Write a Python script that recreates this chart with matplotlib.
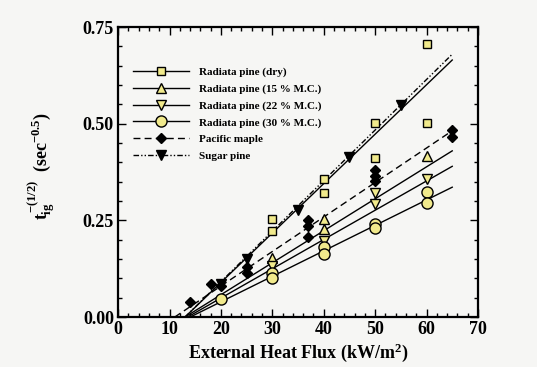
import matplotlib
matplotlib.use("Agg")
import matplotlib.pyplot as plt
from matplotlib.lines import Line2D
from matplotlib.ticker import MultipleLocator

plt.rcParams["font.family"] = "Liberation Serif"
plt.rcParams["font.weight"] = "bold"
plt.rcParams["mathtext.fontset"] = "custom"
plt.rcParams["mathtext.rm"] = "Liberation Serif:bold"
plt.rcParams["mathtext.it"] = "Liberation Serif:bold"
plt.rcParams["mathtext.bf"] = "Liberation Serif:bold"

# data
dry_x = [30, 30, 40, 40, 50, 50, 60, 60]
dry_y = [0.253, 0.222, 0.357, 0.321, 0.502, 0.412, 0.502, 0.707]
mc15_x = [30, 40, 40, 60]
mc15_y = [0.153, 0.254, 0.229, 0.416]
mc22_x = [30, 40, 50, 50, 60]
mc22_y = [0.132, 0.198, 0.321, 0.293, 0.357]
mc30_x = [20, 30, 30, 40, 40, 50, 50, 60, 60]
mc30_y = [0.048, 0.115, 0.100, 0.181, 0.162, 0.241, 0.230, 0.323, 0.295]
maple_x = [14, 18, 20, 25, 25, 37, 37, 37, 50, 50, 50, 65, 65]
maple_y = [0.039, 0.085, 0.080, 0.130, 0.115, 0.252, 0.235, 0.207, 0.381, 0.366, 0.352, 0.484, 0.467]
sugar_x = [20, 25, 35, 45, 55]
sugar_y = [0.085, 0.150, 0.278, 0.413, 0.549]

# fitted lines: x where they cross zero, and value at x = 65
fit_x_start = [13, 13, 13.5, 14, 11, 13]
fit_x_end = [65, 65, 65, 65, 65, 65]
fit_y_end = [0.665, 0.430, 0.390, 0.336, 0.482, 0.680]

labels = ["Radiata pine (dry)", "Radiata pine (15 % M.C.)", "Radiata pine (22 % M.C.)",
          "Radiata pine (30 % M.C.)", "Pacific maple", "Sugar pine"]

yel = "#f1ea8c"
styles = [
    dict(marker="s", mfc=yel, mec="black", ms=6, ls="-"),
    dict(marker="^", mfc=yel, mec="black", ms=7, ls="-"),
    dict(marker="v", mfc=yel, mec="black", ms=7, ls="-"),
    dict(marker="o", mfc=yel, mec="black", ms=8, ls="-"),
    dict(marker="D", mfc="black", mec="black", ms=5, ls=(0, (5, 3))),
    dict(marker="v", mfc="black", mec="black", ms=7, ls=(0, (4, 1.5, 1, 1.5, 1, 1.5))),
]
series = [(dry_x, dry_y), (mc15_x, mc15_y), (mc22_x, mc22_y), (mc30_x, mc30_y),
          (maple_x, maple_y), (sugar_x, sugar_y)]

bg = "#f6f6f4"
fig, ax = plt.subplots(figsize=(5.37, 3.67), dpi=100, facecolor=bg)
ax.set_facecolor(bg)
fig.subplots_adjust(left=0.22, right=0.89, top=0.926, bottom=0.136)

handles = []
for i, (sx, sy) in enumerate(series):
    st = styles[i]
    ax.plot([fit_x_start[i], fit_x_end[i]], [0, fit_y_end[i]], color="black",
            lw=1.0, ls=st["ls"], zorder=2)
    ax.plot(sx, sy, ls="none", marker=st["marker"], mfc=st["mfc"], mec=st["mec"],
            ms=st["ms"], mew=1.0, zorder=3)
    handles.append(Line2D([], [], color="black", lw=1.0, ls=st["ls"], marker=st["marker"],
                          mfc=st["mfc"], mec=st["mec"], ms=st["ms"], mew=1.0))

leg = ax.legend(handles, labels, loc="upper left", bbox_to_anchor=(0.02, 0.89),
                frameon=False, handlelength=5.0, fontsize=8, labelspacing=0.62,
                handletextpad=0.9, borderaxespad=0.3)

ax.set_xlim(0, 70)
ax.set_ylim(0, 0.75)
ax.xaxis.set_major_locator(MultipleLocator(10))
ax.xaxis.set_minor_locator(MultipleLocator(2))
ax.yaxis.set_major_locator(MultipleLocator(0.25))
ax.yaxis.set_minor_locator(MultipleLocator(0.05))
ax.yaxis.set_major_formatter(matplotlib.ticker.FormatStrFormatter("%.2f"))
ax.tick_params(which="both", direction="in", top=True, right=True, width=1.0)
ax.tick_params(which="major", length=6, labelsize=13, pad=3)
ax.tick_params(which="minor", length=3)
for s in ax.spines.values():
    s.set_linewidth(1.6)

ax.set_xlabel("External Heat Flux (kW/m$^2$)", fontsize=13, fontweight="bold")
ax.set_ylabel(r"$t_{ig}^{-(1/2)}$  (sec$^{-0.5}$)", fontsize=13, fontweight="bold")
ax.xaxis.set_label_coords(0.5, -0.085)
ax.yaxis.set_label_coords(-0.17, 0.52)

fig.savefig("out.png", dpi=100, facecolor=bg)
